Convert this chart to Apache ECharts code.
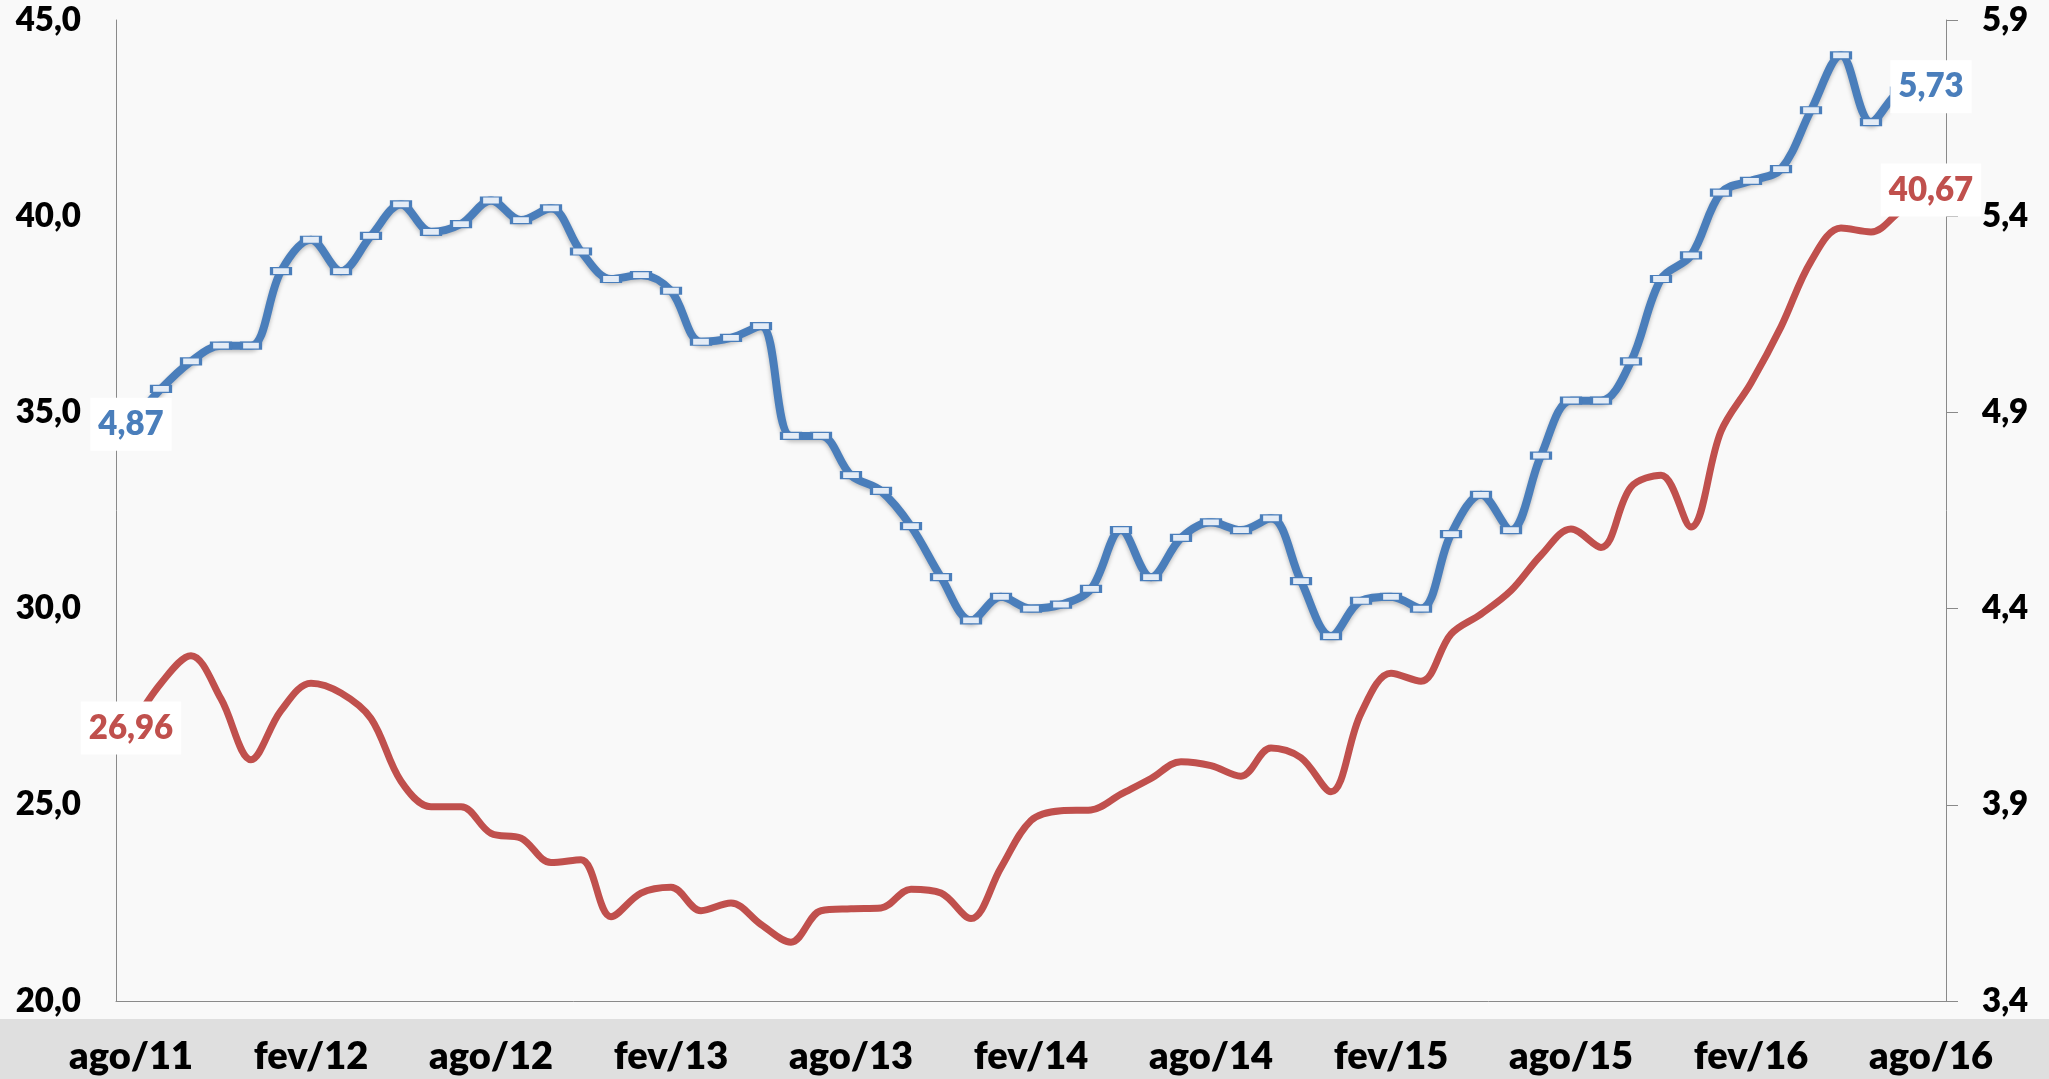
<!DOCTYPE html>
<html>
<head>
<meta charset="utf-8">
<title>Desemprego e rendimento</title>
<script src="https://cdn.jsdelivr.net/npm/echarts@6/dist/echarts.min.js"></script>
<style>
  html, body { margin: 0; padding: 0; background: #f9f9f9; }
  #chart { width: 2049px; height: 1079px; }
</style>
</head>
<body>
<div id="chart"></div>
<script>
// Monthly categories, ago/11 .. ago/16
const months = [
  'ago/11','set/11','out/11','nov/11','dez/11',
  'jan/12','fev/12','mar/12','abr/12','mai/12','jun/12','jul/12','ago/12','set/12','out/12','nov/12','dez/12',
  'jan/13','fev/13','mar/13','abr/13','mai/13','jun/13','jul/13','ago/13','set/13','out/13','nov/13','dez/13',
  'jan/14','fev/14','mar/14','abr/14','mai/14','jun/14','jul/14','ago/14','set/14','out/14','nov/14','dez/14',
  'jan/15','fev/15','mar/15','abr/15','mai/15','jun/15','jul/15','ago/15','set/15','out/15','nov/15','dez/15',
  'jan/16','fev/16','mar/16','abr/16','mai/16','jun/16','jul/16','ago/16'
];

// Left-axis series (red)
const redValues = [
  26.96, 28.10, 28.80, 27.70, 26.15, 27.40, 28.10, 27.85, 27.20, 25.60,
  24.95, 24.95, 24.27, 24.15, 23.53, 23.60, 22.15, 22.75, 22.90, 22.30,
  22.50, 21.95, 21.50, 22.30, 22.35, 22.37, 22.85, 22.75, 22.10, 23.40,
  24.60, 24.85, 24.87, 25.27, 25.67, 26.10, 26.00, 25.73, 26.45, 26.20,
  25.33, 27.33, 28.35, 28.15, 29.35, 29.86, 30.46, 31.36, 32.03, 31.56,
  33.10, 33.40, 32.08, 34.52, 35.75, 37.18, 38.85, 39.70, 39.60, 40.15,
  40.67
];

// Right-axis series (blue)
const blueValues = [
  4.87, 4.96, 5.03, 5.07, 5.07, 5.26, 5.34, 5.26, 5.35, 5.43,
  5.36, 5.38, 5.44, 5.39, 5.42, 5.31, 5.24, 5.25, 5.21, 5.08,
  5.09, 5.12, 4.84, 4.84, 4.74, 4.70, 4.61, 4.48, 4.37, 4.43,
  4.40, 4.41, 4.45, 4.60, 4.48, 4.58, 4.62, 4.60, 4.63, 4.47,
  4.33, 4.42, 4.43, 4.40, 4.59, 4.69, 4.60, 4.79, 4.93, 4.93,
  5.03, 5.24, 5.30, 5.46, 5.49, 5.52, 5.67, 5.81, 5.64, 5.72,
  5.73
];

const RED = '#c0504d';
const BLUE = '#4a7ebb';
const AXIS = '#8a8a8a';
const FONT = 'Lato, "Open Sans", sans-serif';
const WEIGHT = 800;

const comma = (v, d) => Number(v).toFixed(d).replace('.', ',');

// Label only the first and last point of a series, boxed in white
function withEndLabels(values, color) {
  const last = values.length - 1;
  return values.map((v, i) => {
    if (i !== 0 && i !== last) return v;
    return {
      value: v,
      label: {
        show: true,
        position: 'inside',
        formatter: p => comma(p.value, 2),
        color: color,
        fontFamily: FONT,
        fontWeight: WEIGHT,
        fontSize: 33,
        lineHeight: 33,
        backgroundColor: '#ffffff',
        padding: [10, 8]
      }
    };
  });
}

const chart = echarts.init(document.getElementById('chart'), null, { renderer: 'canvas' });

chart.setOption({
  animation: false,
  backgroundColor: '#f9f9f9',
  graphic: [{
    type: 'rect',
    left: 0,
    top: 1019,
    silent: true,
    z: 0,
    shape: { width: 2049, height: 60 },
    style: { fill: '#dfdfdf' }
  }],
  grid: { left: 116, right: 103, top: 20, bottom: 78, containLabel: false },
  xAxis: {
    type: 'category',
    data: months,
    boundaryGap: true,
    axisLine: { show: true, lineStyle: { color: AXIS, width: 1 } },
    axisTick: { show: false },
    axisLabel: {
      interval: 5,
      margin: 37,
      color: '#000',
      fontFamily: FONT,
      fontWeight: WEIGHT,
      fontSize: 38
    },
    splitLine: { show: false }
  },
  yAxis: [{
    type: 'value',
    position: 'left',
    min: 20,
    max: 45,
    interval: 5,
    axisLine: { show: true, lineStyle: { color: AXIS, width: 1 } },
    axisTick: { show: false },
    splitLine: { show: false },
    axisLabel: {
      margin: 35,
      color: '#000',
      fontFamily: FONT,
      fontWeight: WEIGHT,
      fontSize: 33,
      formatter: v => comma(v, 1)
    }
  }, {
    type: 'value',
    position: 'right',
    min: 3.4,
    max: 5.9,
    interval: 0.5,
    axisLine: { show: true, lineStyle: { color: AXIS, width: 1 } },
    axisTick: { show: true, inside: false, length: 12, lineStyle: { color: AXIS, width: 1 } },
    splitLine: { show: false },
    axisLabel: {
      margin: 36,
      color: '#000',
      fontFamily: FONT,
      fontWeight: WEIGHT,
      fontSize: 33,
      formatter: v => comma(v, 1)
    }
  }],
  series: [{
    name: 'red',
    type: 'line',
    yAxisIndex: 0,
    data: withEndLabels(redValues, RED),
    smooth: 0.35,
    showAllSymbol: true,
    symbol: 'circle',
    symbolSize: 1,
    lineStyle: { color: RED, width: 7 },
    itemStyle: { color: RED },
    emphasis: { disabled: true },
    z: 2
  }, {
    name: 'blue',
    type: 'line',
    yAxisIndex: 1,
    data: withEndLabels(blueValues, BLUE),
    smooth: 0.35,
    showAllSymbol: true,
    symbol: 'rect',
    symbolSize: [19, 7],
    lineStyle: {
      color: BLUE,
      width: 8,
      shadowColor: 'rgba(0,0,0,0.25)',
      shadowBlur: 4,
      shadowOffsetY: 2
    },
    itemStyle: { color: '#e4ecf6', borderColor: BLUE, borderWidth: 2 },
    emphasis: { disabled: true },
    z: 3
  }]
});
</script>
</body>
</html>
